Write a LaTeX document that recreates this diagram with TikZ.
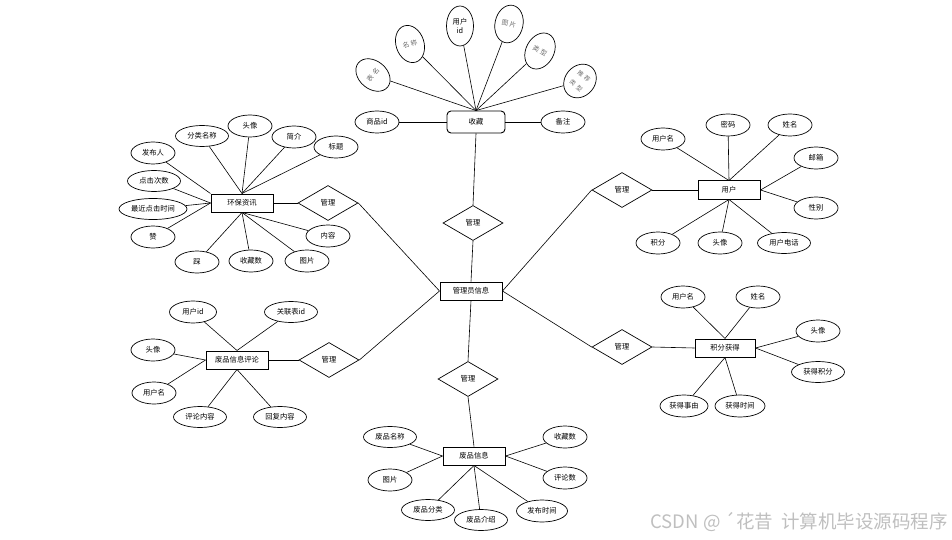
\documentclass[tikz,border=0pt]{standalone}
\usepackage{fontspec}
\newfontfamily\cjk{Noto Sans CJK SC}
\usetikzlibrary{shapes.geometric}
\begin{document}
\begin{tikzpicture}[x=1pt,y=-1pt,
  every node/.style={font=\cjk\fontsize{7.3}{8.5}\selectfont, inner sep=0pt},
  attr/.style={ellipse, draw, line width=0.7pt, minimum width=44pt, minimum height=22pt},
  wattr/.style={attr, minimum width=53pt, minimum height=21pt},
  ent/.style={rectangle, draw, line width=1pt, minimum width=62pt, minimum height=18pt},
  rel/.style={diamond, draw, line width=0.7pt, minimum width=60pt, minimum height=35pt},
  link/.style={line width=0.6pt},
  rot/.style={attr, text=gray!85!black, minimum width=28pt, minimum height=38pt, font=\cjk\fontsize{6.6}{8}\selectfont}
]
\useasboundingbox (0,0) rectangle (952,540);

% ---------- top: 收藏 ----------
\node[ent, rounded corners=4pt, minimum width=58pt, minimum height=22pt, line width=0.9pt] (fav) at (476,122) {收藏};
\node[attr] (spid) at (377,122) {商品id};
\node[attr] (bz) at (563,122) {备注};
\node[rot, rotate=50] (bm) at (373,75) {表\hspace{2.5pt}名};
\node[rot, rotate=18] (mc) at (410,44) {名\hspace{2pt}称};
\node[attr, minimum width=27pt, minimum height=40pt, align=center] (uid) at (460,26) {用户\\id};
\node[rot, rotate=-12] (tp) at (509,24) {图\hspace{1.5pt}片};
\node[rot, rotate=-28] (lx) at (540,51) {类\hspace{2pt}型};
\node[rot, rotate=-40, minimum width=30pt, minimum height=36pt, align=center, font=\cjk\fontsize{6}{12}\selectfont] (tj) at (580,81) {推\hspace{2.5pt}荐\\类\hspace{2.5pt}型};
\draw[link] (spid) -- (fav.west);
\draw[link] (bz) -- (fav.east);
\foreach \n in {bm,mc,uid,tp,lx,tj} \draw[link] (\n) -- (fav.north);

% ---------- centre ----------
\node[rel] (d1) at (473,223) {管理};
\node[ent] (admin) at (471,291) {管理员信息};
\node[rel] (d4) at (468,379) {管理};
\draw[link] (fav.south) -- (d1.north);
\draw[link] (d1.south) -- (admin.north);
\draw[link] (admin.south) -- (d4.north);

% ---------- 环保资讯 ----------
\node[ent] (hb) at (242,203) {环保资讯};
\node[rel] (d2) at (328,203) {管理};
\node[attr] (fbr) at (153,153) {发布人};
\node[wattr] (flmc) at (202,136) {分类名称};
\node[attr] (tx1) at (250,126) {头像};
\node[attr] (jj) at (294,137) {简介};
\node[attr] (bt) at (336,147) {标题};
\node[wattr] (djcs) at (154,181) {点击次数};
\node[attr, minimum width=68pt, minimum height=21pt] (zjdj) at (153,209) {最近点击时间};
\node[attr] (zan) at (153,237) {赞};
\node[attr] (cai) at (197,262) {踩};
\node[attr] (scs1) at (251,261) {收藏数};
\node[attr] (tp1) at (307,261) {图片};
\node[attr] (nr) at (328,236) {内容};
\draw[link] (fbr) -- (hb.north west);
\foreach \n in {flmc,tx1,jj,bt} \draw[link] (\n) -- (hb.north);
\foreach \n in {djcs,zjdj,zan} \draw[link] (\n) -- (hb.west);
\foreach \n in {cai,scs1,tp1,nr} \draw[link] (\n) -- (hb.south);
\draw[link] (hb.east) -- (d2.west);
\draw[link] (d2.east) -- (admin.west);

% ---------- 用户 ----------
\node[ent] (user) at (729,190) {用户};
\node[rel] (d5) at (622,190) {管理};
\node[attr] (yhm) at (663,139) {用户名};
\node[attr] (mm) at (728,125) {密码};
\node[attr] (xm) at (790,125) {姓名};
\node[attr] (yx) at (816,158) {邮箱};
\node[attr] (xb) at (816,208) {性别};
\node[attr] (jf) at (658,243) {积分};
\node[attr] (tx2) at (720,243) {头像};
\node[wattr] (dh) at (784,243) {用户电话};
\foreach \n in {yhm,mm,xm} \draw[link] (\n) -- (user.north);
\foreach \n in {yx,xb} \draw[link] (\n) -- (user.east);
\foreach \n in {jf,tx2,dh} \draw[link] (\n) -- (user.south);
\draw[link] (admin.east) -- (d5.west);
\draw[link] (d5.east) -- (user.west);

% ---------- 废品信息评论 ----------
\node[ent] (pl) at (237,360) {废品信息评论};
\node[rel] (d3) at (329,360) {管理};
\node[attr, minimum width=47pt] (uid2) at (193,312) {用户id};
\node[wattr] (glb) at (291,312) {关联表id};
\node[attr] (tx3) at (153,350) {头像};
\node[attr] (yhm3) at (154,393) {用户名};
\node[wattr] (plnr) at (200,417) {评论内容};
\node[wattr] (hfnr) at (280,417) {回复内容};
\foreach \n in {uid2,glb} \draw[link] (\n) -- (pl.north);
\foreach \n in {tx3,yhm3} \draw[link] (\n) -- (pl.west);
\foreach \n in {plnr,hfnr} \draw[link] (\n) -- (pl.south);
\draw[link] (pl.east) -- (d3.west);
\draw[link] (d3.east) -- (admin.west);

% ---------- 积分获得 ----------
\node[ent, minimum width=60pt] (jfhd) at (725,348) {积分获得};
\node[rel] (d6) at (622,347) {管理};
\node[attr] (yhm4) at (683,297) {用户名};
\node[attr] (xm4) at (758,297) {姓名};
\node[attr] (tx4) at (818,331) {头像};
\node[wattr] (hdjf) at (818,372) {获得积分};
\node[attr, minimum width=48pt] (hdsy) at (684,406) {获得事由};
\node[attr, minimum width=50pt] (hdsj) at (740,406) {获得时间};
\foreach \n in {yhm4,xm4} \draw[link] (\n) -- (jfhd.north);
\foreach \n in {tx4,hdjf} \draw[link] (\n) -- (jfhd.east);
\foreach \n in {hdsy,hdsj} \draw[link] (\n) -- (jfhd.south);
\draw[link] (admin.east) -- (d6.west);
\draw[link] (d6.east) -- (jfhd.west);

% ---------- 废品信息 ----------
\node[ent] (fp) at (474,456) {废品信息};
\node[wattr] (fpmc) at (390,437) {废品名称};
\node[attr] (scs2) at (565,437) {收藏数};
\node[attr] (tp2) at (390,480) {图片};
\node[attr] (pls) at (565,478) {评论数};
\node[wattr] (fpfl) at (428,510) {废品分类};
\node[wattr] (fpjs) at (481,520) {废品介绍};
\node[attr, minimum width=51pt] (fbsj) at (542,511) {发布时间};
\draw[link] (d4.south) -- (fp.north);
\foreach \n in {fpmc,tp2} \draw[link] (\n) -- (fp.west);
\foreach \n in {scs2,pls} \draw[link] (\n) -- (fp.east);
\foreach \n in {fpfl,fpjs,fbsj} \draw[link] (\n) -- (fp.south);

% ---------- watermark ----------
\node[anchor=east, text=gray!50, font=\cjk\fontsize{18.5}{20}\selectfont] (wm) at (948,522) {CSDN @ ´花昔\ \ 计算机毕设源码程序};
\end{tikzpicture}
\end{document}
